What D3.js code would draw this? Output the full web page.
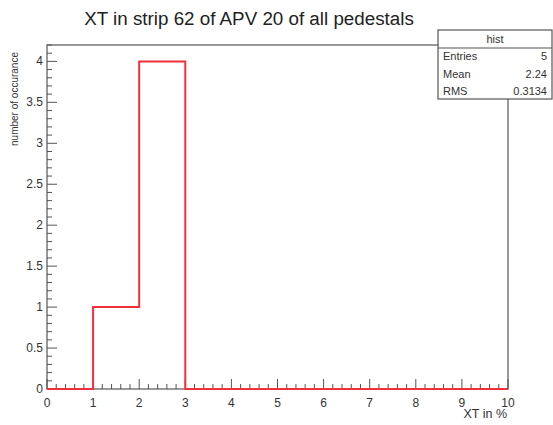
<!DOCTYPE html>
<html><head><meta charset="utf-8">
<script src="https://cdn.jsdelivr.net/npm/d3@7"></script>
<style>body{margin:0;background:#fff}svg{display:block}text{font-family:"Liberation Sans",Arial,sans-serif}</style>
</head><body><svg id="c" width="553" height="425"></svg>
<script>
const binEdges = [0,1,2,3,4,5,6,7,8,9,10];
const binCounts = [0,1,4,0,0,0,0,0,0,0];
const yTicks = [0,0.5,1,1.5,2,2.5,3,3.5,4];
const xTicks = [0,1,2,3,4,5,6,7,8,9,10];
const statNames = ["Entries","Mean","RMS"];
const statValues = ["5","2.24","0.3134"];

const svg = d3.select("#c");
const L=47,R=508,T=45,B=389;
const x = d3.scaleLinear().domain([0,10]).range([L,R]);
const y = d3.scaleLinear().domain([0,4.2]).range([B,T]);

svg.append("rect").attr("x",L).attr("y",T).attr("width",R-L).attr("height",B-T)
  .attr("fill","none").attr("stroke","#555").attr("stroke-width",1.2);

const gx = svg.append("g").attr("stroke","#555").attr("stroke-width",1);
d3.range(0,10.001,0.2).forEach(v=>{
  const major = Math.abs(v-Math.round(v))<1e-6;
  gx.append("line").attr("x1",x(v)).attr("x2",x(v)).attr("y1",B).attr("y2",B-(major?10:5));
});
const gy = svg.append("g").attr("stroke","#555").attr("stroke-width",1);
d3.range(0,4.2001,0.1).forEach(v=>{
  const major = Math.abs(v*2-Math.round(v*2))<1e-6;
  gy.append("line").attr("y1",y(v)).attr("y2",y(v)).attr("x1",L).attr("x2",L+(major?10:5));
});
svg.append("g").selectAll("text").data(xTicks).join("text")
  .attr("x",d=>x(d)).attr("y",407).attr("text-anchor","middle")
  .attr("font-size",12).attr("fill","#333").text(d=>d);
svg.append("g").selectAll("text").data(yTicks).join("text")
  .attr("x",43).attr("y",d=>y(d)+4).attr("text-anchor","end")
  .attr("font-size",12).attr("fill","#333").text(d=>d);

let pts=[[binEdges[0],0]];
binCounts.forEach((c,i)=>{pts.push([binEdges[i],c]);pts.push([binEdges[i+1],c]);});
pts.push([binEdges[binEdges.length-1],0]);
svg.append("path").attr("d",d3.line().x(d=>x(d[0])).y(d=>y(d[1]))(pts))
  .attr("fill","none").attr("stroke","#f0303a").attr("stroke-width",2);

svg.append("text").attr("x",249).attr("y",25).attr("text-anchor","middle")
  .attr("font-size",18.8).attr("fill","#222").text("XT in strip 62 of APV 20 of all pedestals");
svg.append("text").attr("x",507).attr("y",418).attr("text-anchor","end")
  .attr("font-size",12.5).attr("fill","#333").text("XT in %");
svg.append("text").attr("transform","translate(18,99) rotate(-90)").attr("text-anchor","middle")
  .attr("font-size",10).attr("fill","#333").text("number of occurance");

const sb = svg.append("g");
sb.append("rect").attr("x",438).attr("y",30).attr("width",114).attr("height",69)
  .attr("fill","#fff").attr("stroke","#555").attr("stroke-width",1.2);
sb.append("line").attr("x1",438).attr("x2",552).attr("y1",48).attr("y2",48).attr("stroke","#555").attr("stroke-width",1.2);
sb.append("text").attr("x",495).attr("y",43).attr("text-anchor","middle").attr("font-size",11).attr("fill","#333").text("hist");
statNames.forEach((n,i)=>{
  sb.append("text").attr("x",443).attr("y",60+i*17.5).attr("font-size",11).attr("fill","#333").text(n);
  sb.append("text").attr("x",547).attr("y",60+i*17.5).attr("text-anchor","end").attr("font-size",11).attr("fill","#333").text(statValues[i]);
});
</script></body></html>
